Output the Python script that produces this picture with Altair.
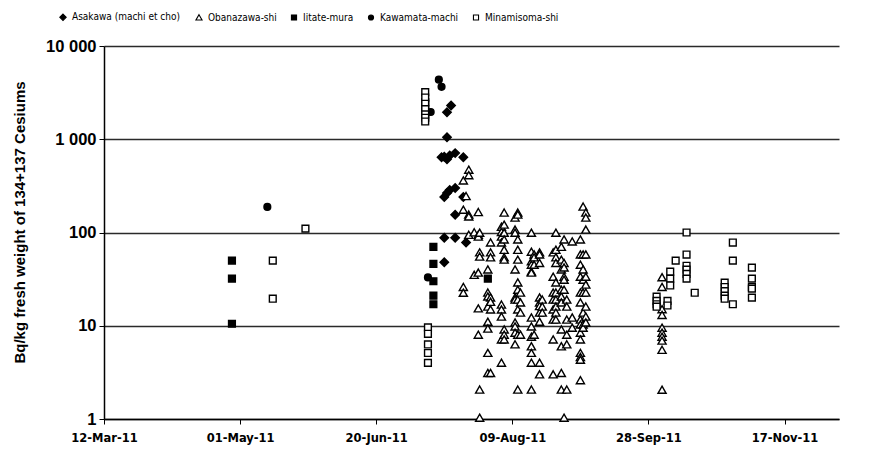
import altair as alt
import pandas as pd

series_names = ["Asakawa (machi et cho)", "Obanazawa-shi", "Iitate-mura",
                "Kawamata-machi", "Minamisoma-shi"]
series_shapes = ["M0,-1.25L1.25,0L0,1.25L-1.25,0Z", "M0,-1.1L1.2,1L-1.2,1Z",
                 "square", "circle", "square"]
series_fills = ["black", "white", "black", "black", "white"]
series_strokes = ["black", "black", "black", "black", "black"]

asakawa_dates = ["2011-07-16", "2011-07-17T12:00", "2011-07-16", "2011-07-14", "2011-07-15",
                 "2011-07-16", "2011-07-17", "2011-07-19", "2011-07-22", "2011-07-15",
                 "2011-07-16", "2011-07-17", "2011-07-19", "2011-07-22", "2011-07-19",
                 "2011-07-15", "2011-07-19", "2011-07-23", "2011-07-15"]
asakawa_vals = [1950, 2300, 1050, 640, 650, 610, 670, 710, 640, 240,
                265, 285, 300, 240, 155, 88, 88, 78, 48]

kawamata_dates = ["2011-05-11", "2011-07-13", "2011-07-14", "2011-07-10", "2011-07-09"]
kawamata_vals = [188, 4350, 3650, 1960, 33]

iitate_dates = ["2011-04-28", "2011-04-28", "2011-04-28", "2011-07-08", "2011-07-08",
                "2011-07-11", "2011-07-11", "2011-07-11", "2011-07-11", "2011-07-11",
                "2011-07-31"]
iitate_vals = [50, 32, 10.5, 2500, 1950, 70, 46, 30, 21, 17, 32]

minamisoma_groups = [
    ("2011-05-13", [50, 19.5]),
    ("2011-05-25", [110]),
    ("2011-07-08", [3200, 2800, 2400, 2100, 1850, 1700, 1550]),
    ("2011-07-09", [9.6, 8.2, 6.3, 5.1, 4.0]),
    ("2011-10-01", [20.5, 18.5, 17, 16]),
    ("2011-10-05", [18.5, 16.5]),
    ("2011-10-06", [38, 32, 27]),
    ("2011-10-08", [50]),
    ("2011-10-12", [100, 58, 44, 40, 36, 32]),
    ("2011-10-15", [22.6]),
    ("2011-10-26", [29, 26, 23.5, 21, 19.5]),
    ("2011-10-29", [78, 50, 17]),
    ("2011-11-05", [42, 32, 26, 25, 20]),
]

obanazawa_groups = [
    ("2011-07-22", [360, 175, 26, 22.5]),
    ("2011-07-23", [245]),
    ("2011-07-24", [470, 410, 155, 148, 94]),
    ("2011-07-26", [100, 35]),
    ("2011-07-27T12:00", [165, 94, 90, 37, 15.3, 8]),
    ("2011-07-28", [99, 61, 55, 2.06, 1.03]),
    ("2011-07-31", [40, 22.6, 20.5, 16, 11, 9.3, 5.1, 3.1]),
    ("2011-08-01", [78, 61, 54, 20, 18, 14.9, 3.1]),
    ("2011-08-05", [115, 101, 90, 78, 16.8, 14.9, 12.5, 7.1, 4]),
    ("2011-08-06", [163, 121, 99, 84, 65, 54, 51, 9.1, 8, 7.1]),
    ("2011-08-10", [144, 107, 99, 40, 20, 19, 10.8, 9.8, 8.4, 6.3]),
    ("2011-08-11", [163, 155, 84, 65, 51, 29, 24.3, 19, 14.9, 8, 2.06]),
    ("2011-08-12", [22.6, 17.7, 13.8, 8]),
    ("2011-08-16", [99, 62, 49, 45, 38, 37, 12.2, 9.8, 7.6, 6, 5.1, 4, 2.06]),
    ("2011-08-17", [58, 54, 45, 8]),
    ("2011-08-19", [61, 58, 47, 20, 17.7, 16.2, 13.8, 11, 4, 3]),
    ("2011-08-20", [19, 16, 13.8]),
    ("2011-08-24", [61, 33.5, 22.6, 19, 14.9, 11.6, 7.1, 3]),
    ("2011-08-25", [99, 65, 54, 47, 29, 22.6, 19, 16, 13.8, 11.6]),
    ("2011-08-27", [70, 51, 40, 24.3, 20.5, 17.7, 9.1, 6, 3.1, 2.06]),
    ("2011-08-28", [84, 47, 42, 33.5, 31, 24.3, 1.03]),
    ("2011-08-29", [19, 16, 11.6, 8, 6.3, 2.06]),
    ("2011-08-31", [80, 12.2, 9.5]),
    ("2011-09-03", [84, 58, 45, 33.5, 22.6, 17.7, 11.6, 10.3, 8.4, 7.1, 5.1, 4.6, 4.3, 2.6]),
    ("2011-09-04", [189, 58, 40, 31, 22.6, 13.8, 10.3, 9.5]),
    ("2011-09-05", [163, 144, 107, 58, 33.5, 27.5, 22.6, 16, 12.5, 10.8]),
    ("2011-10-03", [33, 26, 15, 13, 9.5, 8.4, 7.6, 6.9, 5.5, 2.05]),
]

tick_dates = ["2011-03-12", "2011-05-01", "2011-06-20", "2011-08-09", "2011-09-28", "2011-11-17"]
y_ticks = [1, 10, 100, 1000, 10000]


def iso(d):
    return d if "T" in d else d + "T00:00:00"


rows = []
for d, v in zip(asakawa_dates, asakawa_vals):
    rows.append({"date": iso(d), "value": v, "series": series_names[0]})
for d, vals in obanazawa_groups:
    for v in vals:
        rows.append({"date": iso(d), "value": v, "series": series_names[1]})
for d, v in zip(iitate_dates, iitate_vals):
    rows.append({"date": iso(d), "value": v, "series": series_names[2]})
for d, v in zip(kawamata_dates, kawamata_vals):
    rows.append({"date": iso(d), "value": v, "series": series_names[3]})
for d, vals in minamisoma_groups:
    for v in vals:
        rows.append({"date": iso(d), "value": v, "series": series_names[4]})
df = pd.DataFrame(rows)


def dt(s):
    y, m, d = [int(p) for p in s.split("-")]
    return alt.DateTime(year=y, month=m, date=d)


legend = alt.Legend(
    title=None, orient="none", legendX=-46, legendY=-34, direction="horizontal",
    columns=5, padding=0, columnPadding=12, labelOffset=4, symbolSize=26,
    symbolStrokeWidth=1.1,
    labelFont="DejaVu Sans Condensed", labelFontSize=10, labelColor="black",
)

chart = alt.Chart(df).mark_point(
    filled=False, strokeWidth=1.4, opacity=1, size=46
).encode(
    x=alt.X("date:T",
            scale=alt.Scale(domain=[dt("2011-03-12"), dt("2011-12-07")]),
            axis=alt.Axis(values=[dt(s) for s in tick_dates], format="%d-%b-%y",
                          title=None, grid=False, domainColor="black", domainWidth=1.5,
                          tickColor="black", tickSize=5, tickWidth=1,
                          labelFont="DejaVu Sans", labelFontWeight="bold",
                          labelFontSize=11.5, labelColor="black", labelPadding=8,
                          labelFlush=False)),
    y=alt.Y("value:Q",
            scale=alt.Scale(type="log", domain=[1, 10000]),
            axis=alt.Axis(values=y_ticks,
                          labelExpr="datum.value == 10000 ? '10 000' : datum.value == 1000 ? '1 000' : datum.label",
                          title="Bq/kg fresh weight of 134+137 Cesiums",
                          titleFont="Liberation Sans", titleFontWeight="bold", titleFontSize=15,
                          titleColor="black", titleX=-85, titleY=176, titleAngle=270,
                          titleAlign="center", titleBaseline="middle",
                          grid=True, gridColor="#2a2a2a", gridWidth=1.5,
                          domainColor="black", domainWidth=1.5,
                          tickColor="black", tickSize=5, tickWidth=1,
                          labelFont="Liberation Sans", labelFontWeight="bold",
                          labelFontSize=16.5, labelColor="black", labelPadding=3)),
    shape=alt.Shape("series:N", scale=alt.Scale(domain=series_names, range=series_shapes),
                    legend=legend),
    fill=alt.Fill("series:N", scale=alt.Scale(domain=series_names, range=series_fills),
                  legend=legend),
    stroke=alt.Stroke("series:N", scale=alt.Scale(domain=series_names, range=series_strokes),
                      legend=legend),
).properties(
    width=735, height=373,
    autosize=alt.AutoSizeParams(type="none"),
    padding={"left": 96, "top": 38, "right": 31, "bottom": 30},
).configure_view(stroke=None)

chart.save("out.html", embed_options={"renderer": "svg", "actions": False})
